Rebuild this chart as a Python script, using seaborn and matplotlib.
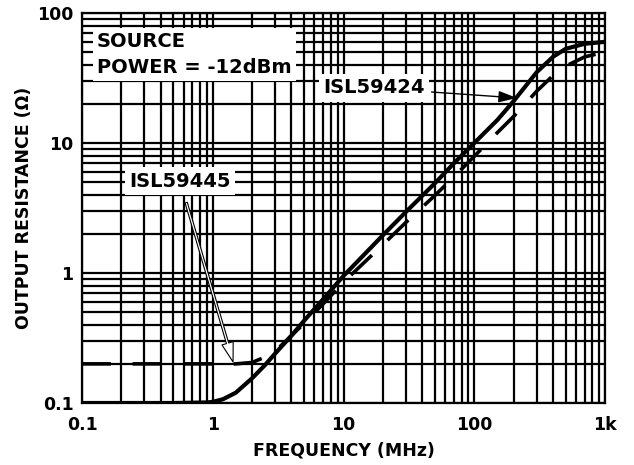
import numpy as np
import pandas as pd
import matplotlib
matplotlib.use("Agg")
import matplotlib.pyplot as plt
import seaborn as sns
from matplotlib.ticker import LogLocator, FixedLocator, FixedFormatter, NullFormatter

# ---- data ----
freq_424 = [0.1, 0.5, 0.9, 1.0, 1.2, 1.5, 2, 2.5, 3, 4, 5, 7, 10, 20, 30, 50, 70, 100, 150, 200, 300, 400, 500, 700, 1000]
res_424 = [0.1, 0.1, 0.101, 0.102, 0.107, 0.12, 0.155, 0.195, 0.24, 0.33, 0.43, 0.63, 0.95, 1.95, 2.95, 4.9, 7.0, 10, 15, 21, 35, 46, 53, 58, 60]

freq_445 = [0.1, 1.0, 1.5, 2, 2.5, 3, 4, 5, 7, 10, 20, 30, 50, 70, 100, 150, 200, 300, 400, 500, 700, 1000]
res_445 = [0.2, 0.2, 0.2, 0.205, 0.225, 0.25, 0.33, 0.41, 0.58, 0.85, 1.65, 2.45, 3.95, 5.5, 7.9, 12, 16, 25, 33, 39, 46, 50]

xticks = [0.1, 1, 10, 100, 1000]
xtick_labels = ["0.1", "1", "10", "100", "1k"]
yticks = [0.1, 1, 10, 100]
ytick_labels = ["0.1", "1", "10", "100"]

sns.set_style("white")
plt.rcParams['font.family'] = ['DejaVu Sans']
plt.rcParams['font.weight'] = 'bold'
plt.rcParams['text.color'] = 'black'
plt.rcParams['axes.labelcolor'] = 'black'
plt.rcParams['xtick.color'] = 'black'
plt.rcParams['ytick.color'] = 'black'

fig = plt.figure(figsize=(6.34, 4.65), dpi=100)
ax = fig.add_axes([82/634, 1-403/465, (605-82)/634, (403-13)/465])

df424 = pd.DataFrame({"f": freq_424, "r": res_424})
df445 = pd.DataFrame({"f": freq_445, "r": res_445})

sns.lineplot(data=df424, x="f", y="r", ax=ax, color="black", lw=3.0, zorder=5)
sns.lineplot(data=df445, x="f", y="r", ax=ax, color="black", lw=2.6, zorder=5,
             dashes=False, linestyle=(0, (8, 6)))

ax.set_xscale("log")
ax.set_yscale("log")
ax.set_xlim(0.1, 1000)
ax.set_ylim(0.1, 100)

ax.xaxis.set_major_locator(FixedLocator(xticks))
ax.xaxis.set_major_formatter(FixedFormatter(xtick_labels))
ax.yaxis.set_major_locator(FixedLocator(yticks))
ax.yaxis.set_major_formatter(FixedFormatter(ytick_labels))
ax.xaxis.set_minor_locator(LogLocator(base=10, subs=range(2, 10), numticks=20))
ax.yaxis.set_minor_locator(LogLocator(base=10, subs=range(2, 10), numticks=20))
ax.xaxis.set_minor_formatter(NullFormatter())
ax.yaxis.set_minor_formatter(NullFormatter())

ax.grid(which="both", color="black", lw=1.6)
ax.tick_params(which="both", length=0, labelsize=12.5, colors="black")
ax.tick_params(axis="x", pad=9)
ax.tick_params(axis="y", pad=6)
for lbl in ax.get_xticklabels() + ax.get_yticklabels():
    lbl.set_fontweight("bold")
for sp in ax.spines.values():
    sp.set_color("black")
    sp.set_linewidth(1.6)

ax.set_xlabel("FREQUENCY (MHz)", fontsize=12.5, fontweight="bold", labelpad=5.5)
ax.set_ylabel("OUTPUT RESISTANCE (Ω)", fontsize=12.5, fontweight="bold", labelpad=3)

# annotations
ax.text(0.13, 71, "SOURCE\nPOWER = -12dBm", fontsize=14, fontweight="bold",
        va="top", ha="left", linespacing=1.45, zorder=6,
        bbox=dict(facecolor="white", edgecolor="none", pad=3))

ax.annotate("ISL59445", xy=(1.43, 0.207), xytext=(0.56, 5.1),
            fontsize=14, fontweight="bold", ha="center", va="center", zorder=6,
            bbox=dict(facecolor="white", edgecolor="none", pad=3),
            arrowprops=dict(arrowstyle="simple,head_length=1.0,head_width=0.6,tail_width=0.12",
                            facecolor="white", edgecolor="black", lw=0.8, shrinkA=6, shrinkB=0))

ax.annotate("ISL59424", xy=(212, 22.2), xytext=(17.1, 26.5),
            fontsize=14, fontweight="bold", ha="center", va="center", zorder=6,
            bbox=dict(facecolor="white", edgecolor="none", pad=3),
            arrowprops=dict(arrowstyle="-|>,head_length=0.8,head_width=0.25",
                            color="black", lw=1.0, shrinkA=2, shrinkB=0))

fig.savefig("out.png", dpi=100)
